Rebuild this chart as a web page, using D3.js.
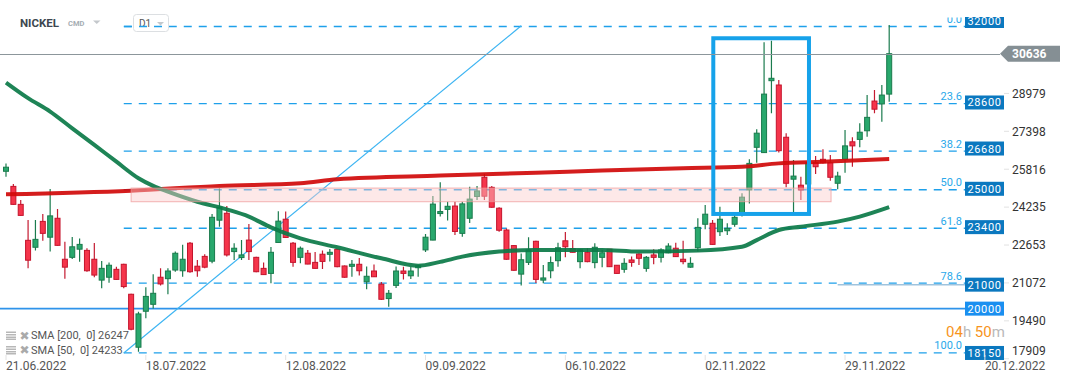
<!DOCTYPE html>
<html>
<head>
<meta charset="utf-8">
<script src="https://cdn.jsdelivr.net/npm/d3@7"></script>
<style>
  html, body { margin: 0; padding: 0; background: #fff; }
  svg { display: block; font-family: Roboto, "Noto Sans", sans-serif; }
</style>
</head>
<body>
<div id="chart"></div>
<script>
// daily candles [open, high, low, close], 21.06.2022 onwards
const candles = [
  [25730, 26060, 25500, 25900], [25100, 25200, 24330, 24350], [24350, 24530, 23870, 23890],
  [22850, 23700, 21680, 22020], [22560, 23700, 22420, 22890], [23640, 23950, 22830, 23140],
  [22980, 24990, 22380, 23870], [23770, 24160, 22620, 22640], [22060, 22790, 21250, 21730],
  [22140, 22990, 22070, 22580], [22480, 22930, 21960, 22680], [22430, 22520, 21540, 21580],
  [22060, 22740, 21310, 21400], [21190, 21990, 20850, 21680], [21310, 21920, 21080, 21810],
  [21640, 21750, 21200, 21220], [21850, 21870, 20850, 20920], [20600, 20620, 19100, 19140],
  [18390, 19870, 18200, 19780], [19890, 20890, 19600, 20510], [20180, 21430, 20010, 20640],
  [21310, 21680, 20960, 21030], [21250, 21680, 20600, 21570], [21610, 22380, 21540, 22310],
  [21580, 22660, 21330, 22060], [22730, 22780, 21500, 21540], [21770, 22030, 21330, 21580],
  [22180, 22270, 21680, 21730], [21980, 23950, 21890, 23810], [23690, 25020, 23420, 24230],
  [23980, 24280, 22170, 22240], [22380, 22730, 22030, 22520], [22130, 22860, 22030, 22240],
  [22860, 23530, 22030, 22380], [22140, 22160, 21520, 21540], [21680, 21920, 21410, 21420],
  [21470, 22570, 21060, 22350], [22760, 24060, 22740, 23650], [23730, 24050, 22950, 22970],
  [22730, 22780, 21750, 21930], [22140, 22590, 21890, 22520], [22310, 22450, 21850, 21860],
  [21930, 22360, 21670, 21680], [22270, 22430, 21650, 21970], [22270, 22490, 21970, 22350],
  [22470, 22490, 21730, 21750], [21780, 21800, 21290, 21310], [21770, 22030, 21330, 21850],
  [21850, 22110, 21380, 21580], [21120, 21760, 20810, 21350], [21570, 21840, 21320, 21330],
  [21020, 21110, 20360, 20390], [20420, 20780, 20080, 20640], [20970, 21760, 20860, 21570],
  [21570, 21750, 21220, 21470], [21370, 21750, 21240, 21570], [21720, 21820, 21330, 21790],
  [22450, 23110, 22360, 22980], [22860, 24700, 22850, 24360], [23980, 25270, 23840, 24050],
  [24140, 24460, 23680, 24270], [24280, 24460, 23070, 23220], [23140, 24460, 23000, 24370],
  [23770, 25080, 23570, 24570], [24680, 25120, 24530, 24910], [25480, 25630, 24530, 24690],
  [25060, 25120, 24210, 24230], [24190, 24230, 23210, 23270], [23280, 23340, 22040, 22060],
  [22630, 22650, 21580, 21600], [21440, 22300, 20970, 22040], [21930, 22980, 21820, 22450],
  [22810, 22830, 21070, 21220], [21190, 21820, 21060, 21280], [21580, 22170, 21270, 21920],
  [22000, 22750, 21750, 22540], [22830, 23200, 22140, 22580], [22500, 22860, 22340, 22350],
  [21960, 22480, 21680, 22450], [22350, 22520, 21930, 21960], [21920, 22730, 21680, 22560],
  [22140, 22450, 21730, 22330], [22480, 22490, 21740, 21750], [21810, 21820, 21460, 21470],
  [21640, 22100, 21500, 21890], [22030, 22170, 21750, 21930], [22280, 22310, 21820, 22100],
  [21680, 22200, 21540, 22140], [22240, 22480, 21850, 22140], [22140, 22520, 21920, 22450],
  [22330, 22730, 22310, 22610], [22520, 22750, 22150, 22170], [22060, 22830, 21850, 21960],
  [21730, 22140, 21710, 21890], [22540, 23770, 22380, 23390], [23520, 24320, 23310, 23940],
  [23560, 23700, 22670, 22680], [23210, 24250, 23030, 23730], [23250, 23560, 23070, 23350],
  [23520, 24000, 23420, 23810], [24000, 24810, 23840, 24650], [24950, 26230, 24390, 26060],
  [26730, 27480, 26090, 27320], [26510, 31110, 26490, 28950], [29510, 31180, 28150, 29610],
  [29330, 29540, 26510, 26590], [27150, 27320, 25060, 25230], [25400, 26200, 23980, 25530],
  [25150, 25500, 24530, 24950], [25200, 26200, 25160, 26090], [26090, 26370, 25620, 25920],
  [26230, 26650, 26060, 26090], [26090, 26410, 25340, 25480], [25230, 25710, 24980, 25530],
  [26230, 27450, 25670, 26790], [26960, 27150, 25920, 26790], [27060, 27730, 26730, 27360],
  [27420, 28910, 27170, 27980], [28660, 29120, 28150, 28320], [28540, 29330, 27800, 28910],
  [28950, 31830, 28630, 30636],
];

// moving averages (candle index, value)
const sma200Idx = [0, 17, 29, 40, 45, 59, 72, 81, 92, 100, 105, 111, 120];
const sma200Val = [24770, 24920, 25120, 25230, 25400, 25550, 25670, 25760, 25860, 25920, 26060, 26130, 26247];
const sma50Idx = [0, 3, 6, 9, 12, 15, 18, 20, 22, 26, 30, 33, 36, 40, 45, 51, 56, 59, 62, 67, 72, 81, 86, 94, 100, 102, 105, 108, 113, 116, 120];
const sma50Val = [29430, 28780, 28220, 27520, 26830, 26130, 25440, 25120, 24880, 24460, 24140, 23840, 23390, 22930, 22560, 22100, 21790, 21950, 22170, 22380, 22450, 22450, 22380, 22420, 22580, 22860, 23280, 23420, 23630, 23840, 24233];

const fibHigh = 31770;
const fibLow = 18150;
const fibStart = 16;
const fibRatios = [0, 23.6, 38.2, 50, 61.8, 78.6, 100];
const levelLabels = [32000, 28600, 26680, 25000, 23400, 21000, 18150];
const supportLevel = 20000;
const rayLevel = 21000;
const rayFrom = 113;
const lastPrice = 30636;

const yTicks = [17909, 19490, 21072, 22653, 24235, 25816, 27398, 28979];
const dateIdx = [0, 19, 38, 57, 76, 95, 114, 133];
const dateLabels = ['21.06.2022', '18.07.2022', '12.08.2022', '09.09.2022', '06.10.2022', '02.11.2022', '29.11.2022', '20.12.2022'];

const zone = { from: 17, to: 112.1, top: 25030, bottom: 24460 };
const highlight = { from: 96.1, to: 109.1, top: 31280, bottom: 23950 };
const trendLine = [[16, 18150], [70, 31800]];

const W = 1072;
const H = 382;
const plotRight = 965;

const svg = d3.select('#chart').append('svg').attr('width', W).attr('height', H);

const x = d3.scaleLinear().domain([0, 133]).range([6, 6 + 133 * 7.36]);
const y = d3.scaleLinear().domain([17909, 28979]).range([358.75, 93.41]);

svg.append('clipPath').attr('id', 'plotclip')
  .append('rect').attr('x', 0).attr('y', 17.5).attr('width', plotRight).attr('height', 343);

const plot = svg.append('g').attr('clip-path', 'url(#plotclip)');

// fibonacci levels
const fibPrice = (r) => fibHigh - (r / 100) * (fibHigh - fibLow);
plot.selectAll('.fib').data(fibRatios).enter().append('line')
  .attr('x1', x(fibStart)).attr('x2', plotRight)
  .attr('y1', (d) => y(fibPrice(d))).attr('y2', (d) => y(fibPrice(d)))
  .attr('stroke', '#1ea0ea').attr('stroke-width', 1.3).attr('stroke-dasharray', '8,7');

plot.selectAll('.fibtxt').data(fibRatios).enter().append('text')
  .attr('x', 962).attr('y', (d) => y(fibPrice(d)) - 3.5)
  .attr('text-anchor', 'end').attr('font-size', 11).attr('fill', '#2aa8ea')
  .text((d) => d.toFixed(1));

// horizontal lines
plot.append('line').attr('x1', 0).attr('x2', plotRight)
  .attr('y1', y(supportLevel)).attr('y2', y(supportLevel))
  .attr('stroke', '#2f93ea').attr('stroke-width', 1.8);
plot.append('line').attr('x1', x(rayFrom)).attr('x2', plotRight)
  .attr('y1', y(rayLevel)).attr('y2', y(rayLevel))
  .attr('stroke', '#9fc3dd').attr('stroke-width', 1.5);
svg.append('line').attr('x1', 0).attr('x2', 1000)
  .attr('y1', Math.round(y(lastPrice)) + 0.5).attr('y2', Math.round(y(lastPrice)) + 0.5)
  .attr('stroke', '#8c969b').attr('stroke-width', 1);

// trend line
plot.append('line')
  .attr('x1', x(trendLine[0][0])).attr('y1', y(trendLine[0][1]))
  .attr('x2', x(trendLine[1][0])).attr('y2', y(trendLine[1][1]))
  .attr('stroke', '#3cb4f2').attr('stroke-width', 1.2);

// candles
const up = (d) => d[3] >= d[0];
const cg = plot.append('g');
cg.selectAll('.wick').data(candles).enter().append('line')
  .attr('x1', (d, i) => x(i)).attr('x2', (d, i) => x(i))
  .attr('y1', (d) => y(d[1])).attr('y2', (d) => y(d[2]))
  .attr('stroke', (d) => (up(d) ? '#1b7b4e' : '#c41a30')).attr('stroke-width', 1.2);
cg.selectAll('.body').data(candles).enter().append('rect')
  .attr('x', (d, i) => x(i) - 2.5)
  .attr('y', (d) => y(Math.max(d[0], d[3])))
  .attr('width', 5)
  .attr('height', (d) => Math.max(2, Math.abs(y(d[0]) - y(d[3]))))
  .attr('fill', (d) => (up(d) ? '#29a86d' : '#f5354b'))
  .attr('stroke', (d) => (up(d) ? '#1a7a4c' : '#c4142c')).attr('stroke-width', 1);

// moving averages
const smaLine = d3.line().x((d) => x(d[0])).y((d) => y(d[1])).curve(d3.curveMonotoneX);
plot.append('path').datum(d3.zip(sma200Idx, sma200Val)).attr('d', smaLine)
  .attr('fill', 'none').attr('stroke', '#d00a0a').attr('stroke-width', 4).attr('stroke-opacity', 0.92);
plot.append('path').datum(d3.zip(sma50Idx, sma50Val)).attr('d', smaLine)
  .attr('fill', 'none').attr('stroke', '#0b7a48').attr('stroke-width', 4).attr('stroke-opacity', 0.92);

// resistance zone + highlight
plot.append('rect')
  .attr('x', x(zone.from)).attr('y', y(zone.top))
  .attr('width', x(zone.to) - x(zone.from)).attr('height', y(zone.bottom) - y(zone.top))
  .attr('fill', 'rgba(250,205,205,0.45)').attr('stroke', 'rgba(238,150,150,0.7)').attr('stroke-width', 1);
plot.append('rect')
  .attr('x', x(highlight.from)).attr('y', y(highlight.top))
  .attr('width', x(highlight.to) - x(highlight.from)).attr('height', y(highlight.bottom) - y(highlight.top))
  .attr('fill', 'none').attr('stroke', '#16a2ea').attr('stroke-width', 4);

// level label boxes
svg.append('clipPath').attr('id', 'boxclip')
  .append('rect').attr('x', 0).attr('y', 17).attr('width', W).attr('height', H - 17);
const labelClip = svg.append('g').attr('clip-path', 'url(#boxclip)');
const levels = levelLabels.concat([supportLevel]);
const lg = labelClip.selectAll('.lvl').data(levels).enter().append('g')
  .attr('transform', (d) => `translate(965,${y(d)})`);
lg.append('rect').attr('x', 0).attr('y', -7).attr('width', 39).attr('height', 14)
  .attr('fill', (d) => (d === supportLevel ? '#1a8ff0' : '#0b78bf'));
lg.append('text').attr('x', 19.5).attr('y', 4).attr('text-anchor', 'middle')
  .attr('font-size', 11).attr('fill', '#fff').attr('letter-spacing', 0.6)
  .text((d) => d);

// y axis
const yt = svg.append('g');
yt.selectAll('line').data(yTicks).enter().append('line')
  .attr('x1', 1004).attr('x2', 1009)
  .attr('y1', (d) => y(d)).attr('y2', (d) => y(d))
  .attr('stroke', '#e2e2e2');
yt.selectAll('text').data(yTicks).enter().append('text')
  .attr('x', 1012).attr('y', (d) => Math.min(y(d), 351)).attr('dy', '0.36em')
  .attr('font-size', 12).attr('fill', '#333')
  .text((d) => d);

// last price tag
const py = y(lastPrice);
svg.append('path')
  .attr('d', `M1000,${py}L1008,${py - 8}H1060V${py + 8}H1008Z`)
  .attr('fill', '#858f94');
svg.append('text').attr('x', 1012).attr('y', py + 4.5)
  .attr('font-size', 12).attr('font-weight', 'bold').attr('fill', '#fff')
  .text(lastPrice);

// x axis
const xt = svg.append('g');
xt.selectAll('line').data(dateIdx).enter().append('line')
  .attr('x1', (d) => x(d)).attr('x2', (d) => x(d))
  .attr('y1', 355).attr('y2', 360).attr('stroke', '#e2e2e2');
xt.selectAll('text').data(dateIdx).enter().append('text')
  .attr('x', (d) => x(d)).attr('y', 369.5)
  .attr('font-size', 12).attr('fill', '#555')
  .text((d, i) => dateLabels[i]);

// countdown
const cd = svg.append('text').attr('x', 946).attr('y', 337).attr('font-size', 15);
cd.append('tspan').attr('fill', '#f7941d').text('04');
cd.append('tspan').attr('fill', '#b9b9b9').text('h ');
cd.append('tspan').attr('fill', '#f7941d').text('50');
cd.append('tspan').attr('fill', '#b9b9b9').text('m');

// legend
const legendRows = [
  `SMA [200,  0] ${sma200Val[sma200Val.length - 1]}`,
  `SMA [50,  0] ${sma50Val[sma50Val.length - 1]}`,
];
const leg = svg.selectAll('.leg').data(legendRows).enter().append('g')
  .attr('transform', (d, i) => `translate(0,${335 + i * 14.5})`);
[-3.5, -1, 1.5, 3.5].forEach((dy) => {
  leg.append('rect').attr('x', 6).attr('y', dy).attr('width', 10).attr('height', 1.5).attr('fill', '#b7b7b7');
});
leg.append('text').attr('x', 19.5).attr('y', 4.5).attr('font-size', 12).attr('fill', '#aaa')
  .attr('font-family', '"DejaVu Sans", sans-serif').text('✖');
leg.append('text').attr('x', 31).attr('y', 4).attr('font-size', 11).attr('fill', '#555')
  .attr('xml:space', 'preserve').style('white-space', 'pre')
  .text((d) => d);

// header
svg.append('text').attr('x', 20).attr('y', 27).attr('font-size', 11.5).attr('font-weight', 'bold')
  .attr('fill', '#3d4750').text('NICKEL');
svg.append('text').attr('x', 68).attr('y', 26).attr('font-size', 7.5).attr('font-weight', 'bold')
  .attr('fill', '#a5adb3').text('CMD');
svg.append('path').attr('d', 'M93,20.5H100.5L96.75,24Z').attr('fill', '#c4c8cc');
svg.append('rect').attr('x', 133.5).attr('y', 14.5).attr('width', 35).attr('height', 17).attr('rx', 3)
  .attr('fill', '#fff').attr('stroke', '#dcdfe2');
svg.append('text').attr('x', 139).attr('y', 27).attr('font-size', 10).attr('fill', '#555').text('D1');
svg.append('path').attr('d', 'M157,22H164L160.5,25.5Z').attr('fill', '#c4c8cc');
svg.append('line').attr('x1', 124).attr('x2', 168).attr('y1', y(fibHigh)).attr('y2', y(fibHigh))
  .attr('stroke', '#1ea0ea').attr('stroke-width', 1.3).attr('stroke-dasharray', '8,7');
</script>
</body>
</html>
